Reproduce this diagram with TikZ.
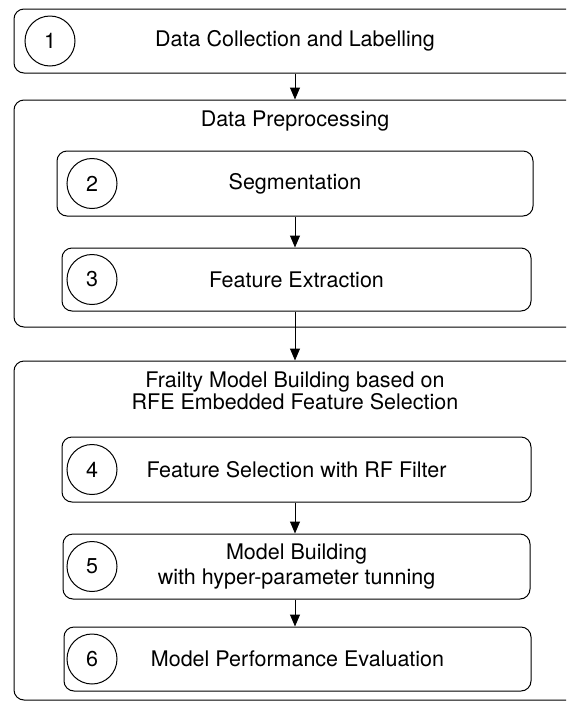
\documentclass[tikz,border=0pt]{standalone}
\usepackage{fontspec}
\setmainfont{TeX Gyre Heros}
\usetikzlibrary{arrows.meta}

\begin{document}
\begin{tikzpicture}[x=1pt, y=-1pt,
  group/.style={draw, rounded corners=10pt, line width=1pt, minimum width=580pt, inner sep=0},
  box/.style={draw, rounded corners=10pt, line width=1pt, align=center, inner sep=0, font=\fontsize{21.5}{24.3}\selectfont},
  num/.style={draw, circle, line width=1pt, minimum size=50pt, inner sep=0, font=\fontsize{21.5}{24}\selectfont},
  lbl/.style={align=center, inner sep=0, font=\fontsize{21.5}{22.5}\selectfont},
  arr/.style={-{Triangle[length=12pt,width=10pt]}, line width=1pt}]
\useasboundingbox (0,0) rectangle (566,702);
\clip (0,0) rectangle (566,702);
% Step 1
\node[group, minimum height=64pt] (g1) at (304,41) {};
\node[num] (c1) at (50,41) {1};
\node[lbl] (t1) at (295,41) {Data Collection and Labelling};
% Data preprocessing
\node[group, minimum height=227pt] (g2) at (304,213.5) {};
\node[lbl, anchor=base] (t2) at (295,126) {Data Preprocessing};
\node[box, minimum width=476pt, minimum height=65pt] (s2) at (295,183.5) {Segmentation};
\node[num] (c2) at (92,183.5) {2};
\node[box, minimum width=469pt, minimum height=63pt] (s3) at (296.5,279.5) {Feature Extraction};
\node[num] (c3) at (92,279.5) {3};
% Model building
\node[group, minimum height=339pt] (g3) at (304,530.5) {};
\node[lbl] (t3) at (295,391) {Frailty Model Building based on\\RFE Embedded Feature Selection};
\node[box, minimum width=469pt, minimum height=65pt] (s4) at (296.5,469.5) {Feature Selection with RF Filter};
\node[num] (c4) at (92,469.5) {4};
\node[box, minimum width=467pt, minimum height=65pt] (s5) at (296.5,566.5) {Model Building\\with hyper-parameter tunning};
\node[num] (c5) at (92,566.5) {5};
\node[box, minimum width=467pt, minimum height=64pt] (s6) at (297.5,659) {Model Performance Evaluation};
\node[num] (c6) at (92,659) {6};
% Arrows
\draw[arr] (g1.south -| s2.north) -- (g2.north -| s2.north);
\draw[arr] (s2.south -| s2.north) -- (s3.north -| s2.north);
\draw[arr] (s3.south -| s2.north) -- (g3.north -| s2.north);
\draw[arr] (s4.south -| s2.north) -- (s5.north -| s2.north);
\draw[arr] (s5.south -| s2.north) -- (s6.north -| s2.north);
\end{tikzpicture}
\end{document}
